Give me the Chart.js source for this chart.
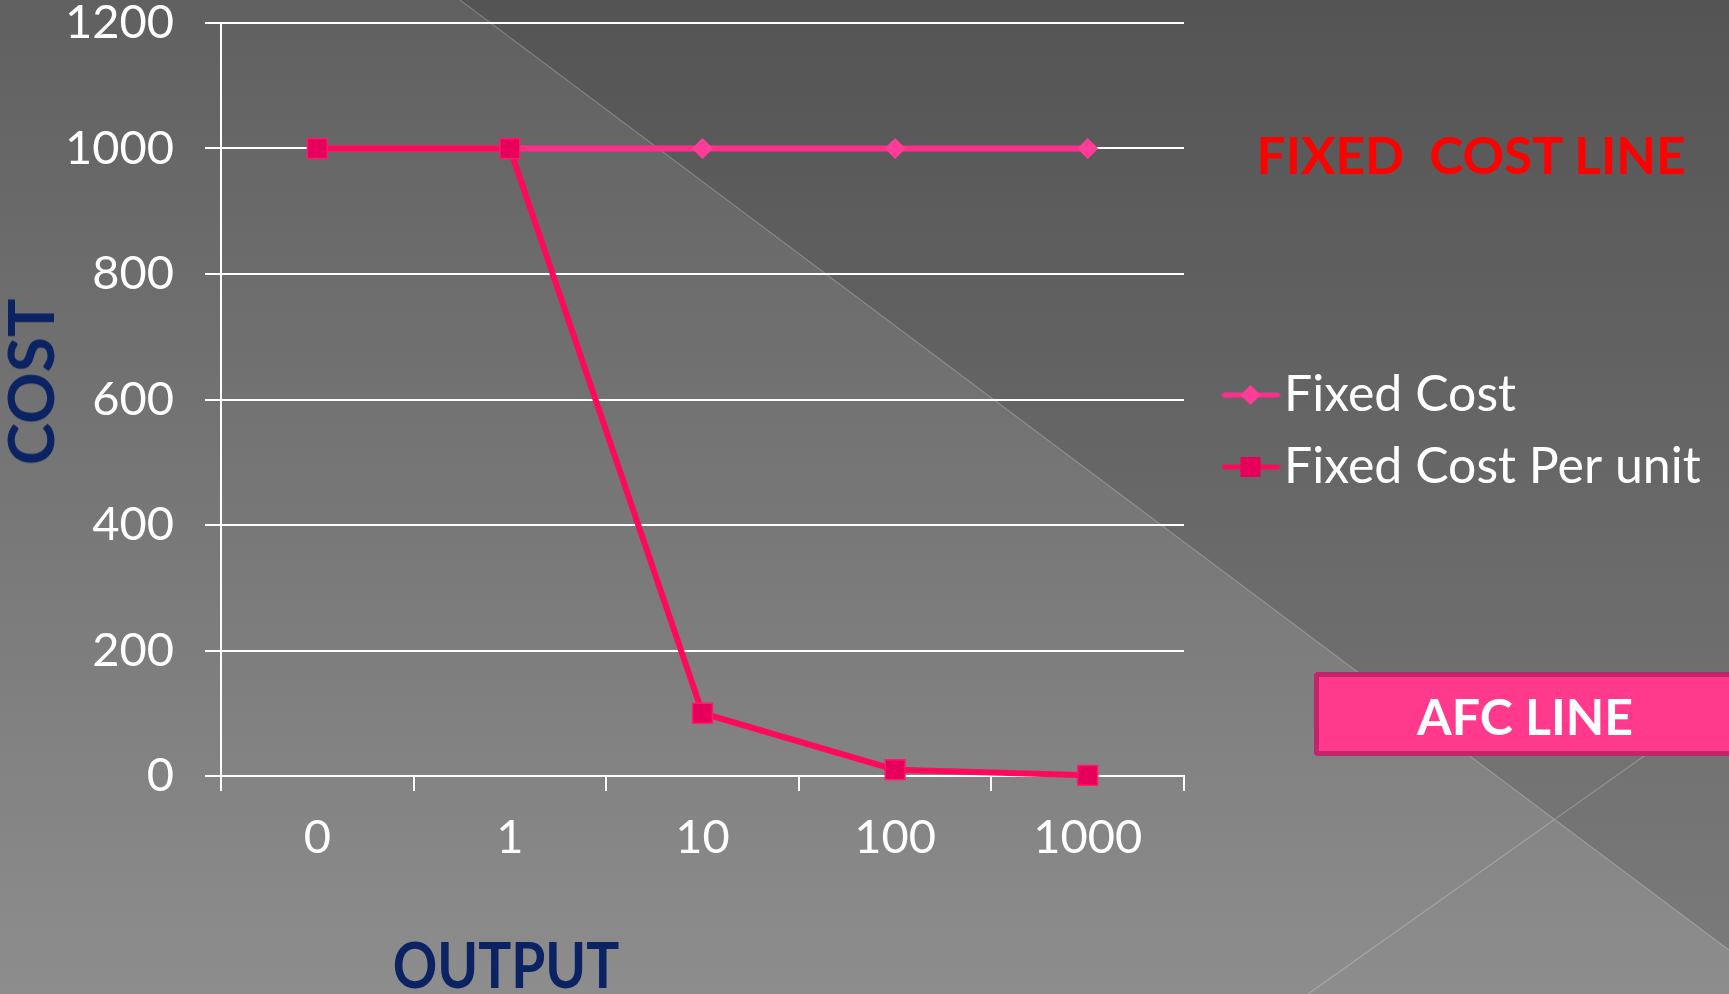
<!DOCTYPE html>
<html>
<head>
<meta charset="utf-8">
<script src="https://cdn.jsdelivr.net/npm/chart.js@4.4.1/dist/chart.umd.min.js"></script>
<style>
  html, body { margin: 0; padding: 0; overflow: hidden; }
  #wrap { position: relative; width: 1729px; height: 994px; }
  #myChart { position: absolute; left: 0; top: 0; }
  .note { position: absolute; font-family: Lato, "Noto Sans", sans-serif; font-weight: bold; white-space: pre; line-height: 1; }
  #costTitle { left: 30px; top: 382px; color: #0b2263; font-size: 64px; transform: translate(-50%, -50%) rotate(-90deg); }
  #outputTitle { left: 506px; top: 964px; color: #0b2263; font-size: 64px; transform: translate(-50%, -50%) scaleX(0.86); }
  #fixedNote { left: 1471px; top: 155px; color: #ff0000; font-size: 51.5px; transform: translate(-50%, -50%); }
  #afcBox { position: absolute; left: 1314px; top: 672px; width: 440px; height: 74px; background: #ff3a8c; border: 5px solid #c2266a; border-radius: 4px; }
  #afcNote { left: 1525px; top: 716px; color: #ffffff; font-size: 50px; transform: translate(-50%, -50%); }
</style>
</head>
<body>
<div id="wrap">
  <canvas id="myChart" width="1729" height="994"></canvas>
  <div class="note" id="costTitle">COST</div>
  <div class="note" id="outputTitle">OUTPUT</div>
  <div class="note" id="fixedNote">FIXED  COST LINE</div>
  <div id="afcBox"></div>
  <div class="note" id="afcNote">AFC LINE</div>
</div>
<script>
var outputLabels = ['0', '1', '10', '100', '1000'];
var fixedCost = [1000, 1000, 1000, 1000, 1000];
var fixedCostPerUnit = [1000, 1000, 100, 10, 1];
var seriesNames = ['Fixed Cost', 'Fixed Cost Per unit'];
var costMin = 0;
var costMax = 1200;
var costStep = 200;

var fontFamily = 'Lato, "Noto Sans", sans-serif';
var tickFont = { family: fontFamily, size: 47, lineHeight: 0.96 };
var legendSize = 50;
var legendPad = 22;
var legendBox = 53;

// little line + marker picture for the legend
function legendIcon(kind, lineColor, markColor) {
    var c = document.createElement('canvas');
    c.width = 96;
    c.height = 26;
    var g = c.getContext('2d');
    g.strokeStyle = lineColor;
    g.lineWidth = 5;
    g.lineCap = 'round';
    g.beginPath();
    g.moveTo(40, 13);
    g.lineTo(93, 13);
    g.stroke();
    g.fillStyle = markColor;
    g.beginPath();
    if (kind === 'diamond') {
        g.moveTo(66, 3);
        g.lineTo(76, 13);
        g.lineTo(66, 23);
        g.lineTo(56, 13);
        g.closePath();
    } else {
        g.rect(56, 3, 20, 20);
    }
    g.fill();
    return c;
}

var icons = [
    legendIcon('diamond', '#ff2e8c', '#ff3c98'),
    legendIcon('square', '#ff0a5a', '#e6005c')
];

var backgroundPlugin = {
    id: 'slideBackground',
    beforeDraw: function (chart) {
        var ctx = chart.ctx;
        var w = chart.width, h = chart.height;
        ctx.save();
        var grad = ctx.createLinearGradient(0, 0, 0, h);
        grad.addColorStop(0, '#606060');
        grad.addColorStop(1, '#8d8d8d');
        ctx.fillStyle = grad;
        ctx.fillRect(0, 0, w, h);
        ctx.fillStyle = 'rgba(0,0,0,0.12)';
        ctx.beginPath();
        ctx.moveTo(460, 0);
        ctx.lineTo(w, 0);
        ctx.lineTo(w, 950);
        ctx.closePath();
        ctx.fill();
        ctx.strokeStyle = 'rgba(255,255,255,0.22)';
        ctx.lineWidth = 1.2;
        ctx.beginPath();
        ctx.moveTo(460, 0);
        ctx.lineTo(w, 950);
        ctx.moveTo(1308, h);
        ctx.lineTo(w, 696);
        ctx.stroke();
        ctx.restore();
    }
};

var ctx = document.getElementById('myChart').getContext('2d');

// room on the right so the plot ends where the legend starts
ctx.font = legendSize + 'px ' + fontFamily;
var widest = Math.max.apply(null, seriesNames.map(function (s) { return ctx.measureText(s).width; }));
var legendWidth = legendPad + legendBox + legendSize / 2 + widest + 10;
var rightPad = Math.max(0, 1729 - 1184 - legendWidth);

var currentChart = new Chart(ctx, {
    type: 'line',
    data: {
        labels: outputLabels,
        datasets: [{
            label: seriesNames[0],
            data: fixedCost,
            order: 2,
            borderColor: '#ff2e8c',
            borderWidth: 6,
            pointStyle: 'rectRot',
            pointRadius: 10.5,
            pointBackgroundColor: '#ff3c98',
            pointBorderWidth: 0,
            tension: 0
        }, {
            label: seriesNames[1],
            data: fixedCostPerUnit,
            order: 1,
            borderColor: '#ff0a5a',
            borderWidth: 6,
            pointStyle: 'rect',
            pointRadius: 14,
            pointBackgroundColor: '#e6005c',
            pointBorderColor: '#ff1a6a',
            pointBorderWidth: 1.5,
            tension: 0
        }]
    },
    options: {
        responsive: false,
        animation: false,
        devicePixelRatio: 1,
        clip: false,
        layout: { padding: { left: 0, top: 0, right: rightPad, bottom: 0 } },
        plugins: {
            tooltip: { enabled: false },
            legend: {
                position: 'right',
                align: 'start',
                maxWidth: 600,
                title: { display: true, text: '', font: { size: 1, lineHeight: 1 }, padding: { top: 347, bottom: 0 } },
                labels: {
                    usePointStyle: true,
                    pointStyleWidth: legendBox,
                    padding: legendPad,
                    color: '#ffffff',
                    font: { family: fontFamily, size: legendSize },
                    generateLabels: function (chart) {
                        return chart.data.datasets.map(function (ds, i) {
                            return {
                                text: ds.label,
                                pointStyle: icons[i],
                                fillStyle: ds.borderColor,
                                strokeStyle: ds.borderColor,
                                lineWidth: 0,
                                fontColor: '#ffffff',
                                hidden: false,
                                datasetIndex: i
                            };
                        });
                    }
                }
            }
        },
        scales: {
            x: {
                type: 'category',
                offset: true,
                grid: { offset: true, drawOnChartArea: false, color: '#ffffff', lineWidth: 2, tickLength: 15 },
                border: { color: '#ffffff', width: 2 },
                ticks: { color: '#ffffff', font: tickFont, padding: 24 },
                afterFit: function (scale) { scale.height = 994 - 776; }
            },
            y: {
                min: costMin,
                max: costMax,
                grid: { color: '#ffffff', lineWidth: 2, tickLength: 16 },
                border: { color: '#ffffff', width: 2 },
                ticks: {
                    stepSize: costStep,
                    color: '#ffffff',
                    font: tickFont,
                    padding: 31,
                    callback: function (value) { return String(value); }
                },
                afterFit: function (scale) {
                    scale.width = 221;
                    scale.paddingTop = 23;
                    scale.paddingBottom = 0;
                }
            }
        }
    },
    plugins: [backgroundPlugin]
});
</script>
</body>
</html>
